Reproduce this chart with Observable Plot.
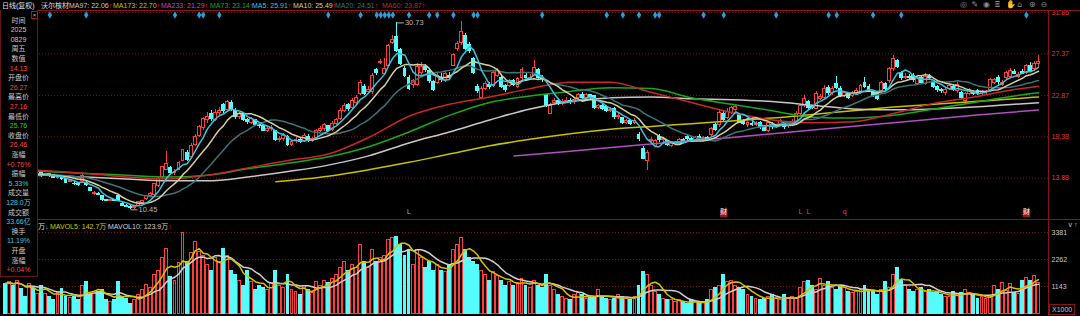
<!DOCTYPE html>
<html><head><meta charset="utf-8">
<script src="https://cdn.jsdelivr.net/npm/d3@7"></script>
<script src="https://cdn.jsdelivr.net/npm/@observablehq/plot@0.6"></script>
<style>
html,body{margin:0;padding:0;background:#000;overflow:hidden}
#wrap{position:relative;width:1080px;height:316px;background:#000;overflow:hidden;font-family:"Liberation Sans","Noto Sans CJK SC",sans-serif;font-size:7px;color:#c8c8c8}
.a{position:absolute;white-space:nowrap;line-height:1}
#wrap svg{position:absolute;left:0}
</style></head><body><div id="wrap"></div><script>
// ---------- data (daily candles, 沃尔核材) ----------
const open = [
14.6,14.4,14.6,14.3,14.5,14.2,14.0,14.3,14.1,14.6,
14.2,14.3,14.2,13.9,14.0,13.8,13.5,13.3,13.2,13.6,
13.4,12.8,12.2,12.2,11.9,11.5,11.4,11.5,12.0,11.1,
10.9,10.8,10.6,10.9,11.2,11.6,11.9,12.1,13.0,14.0,
14.8,15.0,14.4,14.8,15.8,16.6,16.2,17.5,18.5,19.3,
20.2,20.8,20.2,21.0,21.8,21.3,22.0,21.2,20.5,20.7,
20.2,19.9,20.2,19.6,19.5,19.0,19.2,19.0,18.0,18.1,
18.4,17.5,17.9,18.0,17.9,18.4,17.9,18.2,19.0,19.2,
19.5,19.1,19.8,20.3,21.2,21.8,21.5,22.0,23.0,23.8,
23.2,23.2,25.6,26.4,25.2,26.1,28.6,29.2,27.8,25.7,
24.8,24.0,24.0,25.3,25.9,25.5,24.3,24.2,24.8,24.5,
25.0,26.1,27.9,28.5,29.3,28.3,26.8,23.8,22.6,23.6,
24.0,23.9,25.0,24.8,23.9,23.9,24.4,23.8,24.7,25.0,
24.7,25.0,25.6,24.8,22.9,20.9,22.0,22.3,22.0,22.2,
22.3,22.1,22.6,22.9,22.6,22.9,22.8,21.5,21.7,21.6,
21.2,21.4,20.5,20.4,19.9,20.1,19.9,18.6,17.1,15.8,
17.9,17.4,18.4,18.0,17.9,17.4,17.6,17.6,18.0,18.3,
18.1,18.0,18.4,18.1,18.2,18.6,19.6,19.6,20.9,20.4,
21.0,21.3,20.7,20.0,19.6,19.8,19.7,19.9,19.5,19.0,
19.7,19.4,19.7,19.9,19.5,19.8,19.8,20.9,21.7,22.1,
21.6,21.4,22.5,22.6,23.7,23.1,24.1,23.6,22.8,23.0,
22.8,23.1,23.2,24.2,23.8,23.1,23.1,23.3,24.1,24.4,
25.7,26.6,25.3,24.8,24.9,25.0,24.1,24.7,24.1,24.9,
24.3,23.8,23.4,23.1,23.6,23.8,23.3,23.1,22.3,23.0,
23.1,23.3,23.0,23.1,23.4,24.2,24.8,24.0,24.7,24.9,
25.4,24.9,25.4,25.33,26.1,25.7,26.27];
const close = [
14.4,14.6,14.3,14.5,14.2,14.0,14.3,14.1,14.3,14.1,
14.3,14.2,13.9,14.0,13.8,13.4,13.6,13.2,13.1,14.1,
13.1,12.5,12.3,12.1,11.5,11.4,11.5,11.4,11.4,10.9,
10.8,10.6,10.8,11.3,11.4,11.9,12.2,13.2,13.8,15.1,
15.4,14.4,14.5,15.5,16.9,15.9,17.4,18.4,19.4,20.3,
20.5,20.3,21.0,21.2,21.2,22.1,21.3,20.5,20.8,20.2,
20.0,20.3,19.6,19.5,19.0,19.2,19.3,18.0,18.1,18.5,
17.5,17.8,18.0,17.8,18.5,17.9,18.1,19.0,19.2,19.6,
19.0,19.8,20.2,21.2,21.7,21.4,22.3,22.6,24.2,23.0,
23.5,25.0,25.3,26.5,25.7,28.2,28.9,27.7,26.3,25.0,
23.6,24.4,26.0,26.0,25.6,24.4,23.5,25.0,24.5,25.2,
24.8,27.2,28.4,29.7,27.9,27.7,25.3,23.3,23.6,24.1,
23.8,25.3,25.5,23.8,23.4,24.4,24.0,24.6,25.6,24.7,
24.8,25.8,24.8,24.6,21.8,21.7,22.3,22.0,22.2,22.3,
22.1,22.4,22.9,22.6,22.9,22.6,21.5,21.7,21.4,21.2,
21.3,20.5,20.6,19.9,20.1,19.8,20.1,18.1,16.0,16.6,
18.0,17.9,18.0,18.1,17.5,17.6,17.7,18.0,17.9,18.1,
18.0,18.2,18.1,18.2,18.1,19.2,19.1,21.0,20.2,21.1,
21.5,21.6,19.9,19.8,19.9,19.7,19.8,19.4,19.0,19.9,
19.4,19.5,20.1,19.4,19.8,19.9,20.9,21.7,22.5,21.5,
21.5,23.0,22.7,23.6,23.1,23.6,23.7,22.8,23.1,22.6,
23.1,23.3,23.9,23.8,23.4,22.8,22.5,24.2,23.6,25.7,
26.8,26.0,24.7,24.9,24.7,24.5,24.8,24.2,24.9,24.8,
23.8,23.4,23.3,23.4,23.9,23.5,24.0,22.6,23.0,23.4,
23.0,23.1,23.2,23.25,24.5,24.5,24.3,24.2,25.3,25.55,
25.2,25.1,25.24,26.09,25.5,26.26,26.46];
const high = [
14.8,14.8,14.7,14.7,14.6,14.3,14.5,14.4,14.5,14.7,
14.4,14.4,14.3,14.1,14.1,13.9,13.7,13.5,13.3,14.3,
13.6,12.9,12.4,12.3,12.0,11.6,11.6,11.6,12.1,11.2,
11.0,10.9,10.9,11.4,11.5,12.0,12.3,13.3,14.0,15.2,
16.8,15.2,14.8,15.7,17.0,16.9,17.6,18.6,19.6,20.5,
21.0,21.2,21.3,21.6,22.0,22.3,22.3,21.4,21.0,20.9,
20.4,20.5,20.3,19.8,19.6,19.4,19.6,19.1,18.4,18.7,
18.5,18.0,18.3,18.2,18.7,18.6,18.3,19.2,19.5,19.8,
19.6,20.0,20.4,21.4,22.0,22.0,22.5,22.8,24.5,24.0,
23.8,25.2,25.8,26.8,26.9,28.4,29.4,30.73,28.0,26.0,
25.0,24.6,26.3,26.4,26.2,25.7,24.5,25.2,25.2,25.5,
25.3,27.4,28.7,30.9,29.6,28.6,27.0,24.0,23.8,24.4,
24.3,25.5,25.8,25.1,24.1,24.6,24.6,24.8,25.9,25.2,
25.1,26.6,25.8,25.0,23.0,22.0,22.5,22.5,22.4,22.6,
22.5,22.6,23.1,23.2,23.1,23.0,22.9,21.9,21.9,21.8,
21.6,21.5,20.9,20.5,20.3,20.3,20.4,18.8,17.3,16.9,
18.3,18.1,18.6,18.3,18.0,17.8,17.9,18.2,18.2,18.5,
18.3,18.4,18.6,18.4,18.4,19.4,19.8,21.2,21.1,21.4,
21.7,21.8,20.9,20.2,20.1,20.0,20.0,20.0,19.6,20.0,
19.9,19.7,20.3,20.0,20.0,20.2,21.1,21.9,22.8,22.3,
21.8,23.3,23.0,23.9,23.9,23.8,24.9,23.8,23.3,23.2,
23.3,23.6,24.1,24.8,24.0,23.3,23.3,24.4,24.3,25.9,
27.2,26.8,25.5,25.2,25.1,25.2,25.0,24.9,25.2,25.1,
24.5,23.9,23.6,23.6,24.1,24.0,24.3,23.3,23.2,23.6,
23.3,23.5,23.4,23.4,24.7,24.7,25.0,24.5,25.5,25.8,
25.7,25.4,25.7,26.2,26.4,26.5,27.16];
const low = [
14.2,14.3,14.2,14.2,14.1,13.9,13.9,14.0,14.0,14.0,
14.1,14.0,13.8,13.7,13.6,13.3,13.4,13.1,13.0,13.5,
13.0,12.4,12.0,12.0,11.4,11.3,11.3,11.3,11.3,10.8,
10.7,10.45,10.5,10.8,11.1,11.5,11.8,12.0,12.9,13.9,
14.7,14.2,14.2,14.7,15.7,15.7,16.1,17.3,18.3,19.1,
19.8,20.0,20.0,20.7,20.9,21.0,21.1,20.3,20.2,20.0,
19.7,19.7,19.5,19.3,18.9,18.8,19.0,17.9,17.8,17.9,
17.3,17.3,17.6,17.6,17.7,17.7,17.7,18.0,18.8,19.0,
18.9,19.0,19.6,20.1,21.0,21.1,21.3,21.8,22.9,22.8,
23.0,23.0,25.0,26.2,25.0,25.9,28.4,27.5,26.1,24.8,
23.4,23.6,23.8,25.0,25.3,24.2,23.3,24.0,24.3,24.3,
24.6,26.0,27.6,28.3,27.7,27.4,25.1,23.1,22.4,23.4,
23.5,23.7,24.8,23.6,23.2,23.7,23.8,23.6,24.5,24.4,
24.5,24.9,24.6,24.3,21.6,20.8,21.9,21.8,21.8,22.0,
21.9,21.9,22.4,22.4,22.4,22.4,21.3,21.3,21.2,21.0,
21.0,20.3,20.3,19.7,19.7,19.6,19.7,17.9,15.9,14.7,
17.5,17.2,17.8,17.8,17.3,17.2,17.4,17.4,17.7,17.9,
17.8,17.9,17.9,17.9,17.9,18.4,19.0,19.4,20.0,20.2,
20.8,21.1,19.8,19.6,19.4,19.5,19.5,19.2,18.9,18.8,
19.2,19.3,19.5,19.2,19.3,19.6,19.7,20.7,21.6,21.3,
21.3,21.3,22.3,22.4,22.9,22.9,23.5,22.6,22.6,22.4,
22.6,22.9,23.0,23.6,23.2,22.6,22.3,23.1,23.4,24.2,
25.5,25.8,24.5,24.6,24.5,24.3,23.9,24.0,23.9,24.6,
23.6,23.2,23.1,22.9,23.4,23.3,23.1,22.4,21.9,22.8,
22.8,22.8,22.8,22.9,23.2,24.0,23.8,23.8,24.5,24.7,
25.1,24.7,25.2,25.1,25.4,25.5,25.76];
// volume, x1000 shares
const volume = [
1264,1310,1185,1392,1060,690,1264,1060,850,1185,
850,690,564,895,1060,690,650,690,564,1185,
1310,771,935,895,978,564,481,564,1310,690,
646,439,564,771,978,1225,1102,1600,1806,2304,
2677,1517,1392,2097,3381,2138,2511,2967,2553,2428,
2014,1806,2304,2138,2718,2428,1806,1600,1392,1185,
1806,1310,978,1185,1061,978,1268,1806,1185,1061,
1600,978,895,771,1185,978,854,1310,1185,1392,
1268,1475,1600,1890,2138,1806,2014,1890,2843,2138,
1890,2636,2138,2304,2428,3050,3133,3215,2843,2428,
2636,2014,2636,2304,1890,2138,1806,2014,1806,1724,
2014,2636,2843,3133,2636,2304,2138,2014,1806,1600,
1392,1724,1558,1392,1185,1310,1185,1268,1475,1185,
1102,1392,1185,1061,1600,1185,978,771,729,646,
564,771,854,771,646,729,688,978,729,646,
564,646,771,688,646,564,688,1185,1724,1600,
1185,895,771,646,564,564,481,564,481,439,
564,481,439,481,564,978,1061,1185,1600,1310,
1392,1185,1061,978,771,729,646,564,646,688,
771,646,564,771,646,688,646,1061,1310,1392,
1185,978,1475,1185,1310,1061,978,1185,1061,895,
854,895,978,1185,978,895,771,978,1310,1061,
1600,1890,1392,1185,978,895,978,1061,895,978,
854,895,771,688,729,895,771,854,978,854,
771,646,688,646,729,1144,978,1300,950,1250,
870,830,1380,1500,1380,1595,1280];
// long moving averages (candle index -> value)
const maIdx = [0,10,20,30,40,50,60,70,80,90,100,110,120,130,140,150,160,170,180,190,200,210,220,230,240,250,256];
const ma60 = [14.9,14.7,14.4,14.0,13.8,14.2,15.0,15.8,16.5,18.3,20.6,21.9,22.7,23.6,24.3,24.3,23.2,22.1,21.0,20.2,19.9,20.0,20.9,22.0,22.7,23.5,23.87];
const ma73 = [14.8,14.6,14.4,14.2,14.0,14.2,14.9,15.5,16.2,17.3,18.9,20.7,22.1,22.8,23.3,23.7,23.6,22.6,21.9,21.2,20.5,20.4,20.7,21.4,22.1,22.8,23.14];
const ma97 = [14.3,14.2,14.0,13.8,13.6,13.6,14.0,14.6,15.3,16.3,17.7,18.9,20.2,21.4,22.2,22.6,22.7,22.5,22.4,22.2,21.8,21.4,21.3,21.4,21.6,21.9,22.06];
const ma173Idx = [67,80,90,100,110,120,130,140,150,160,170,180,190,200,210,220,230,240,250,256];
const ma173 = [13.5,14.1,14.8,15.6,16.5,17.4,18.1,18.7,19.2,19.5,19.8,20.1,20.4,20.8,21.2,21.6,21.9,22.2,22.5,22.70];
const ma233Idx = [126,140,160,180,200,220,240,256];
const ma233 = [16.3,16.8,17.6,18.3,19.1,19.9,20.7,21.29];
const priceTicks = [31.86,27.37,22.87,18.38,13.88];
const volTicks = [3381,2262,1143];
const signalIdx = [11,20,42,48,49,53,80,88,92,93,94,95,96,100,105,107,111,116,117,133,149,153,157,161,162,173,178,191,204,206,215,222,253];
const markerIdx = [100,178,197,199,208,253];
const markerText = ["L","财","L","L","q","财"];
const legendNames = ["MA97","MA173","MA233","MA73","MA5","MA10","MA20","MA60"];
const legendValues = [22.06,22.70,21.29,23.14,25.91,25.49,24.51,23.87];
const infoLabels = ["时间","2025","0829","周五","数值","14.13","开盘价","26.27","最高价","27.16","最低价","25.76","收盘价","26.46","涨幅","+0.76%","振幅","5.33%","成交量","128.0万","成交额","33.66亿","换手","11.19%","开盘","涨幅","+0.04%"];

// ---------- styling ----------
const RED = "#ff3c3c", CYAN = "#54fcfc", GRID = "#7a1212";
const C = {MA5:"#3cc4dc", MA10:"#d8cfa0", MA20:"#3d7475", MA60:"#c82828", MA73:"#1aa81a", MA97:"#c8c8c8", MA173:"#c8c000", MA233:"#b050c0"};
const FONT = "Liberation Sans, Noto Sans CJK SC, sans-serif";
const N = close.length;
const candles = d3.range(N).map(i => ({i, o: open[i], h: high[i], l: low[i], c: close[i], v: volume[i], up: close[i] >= open[i]}));
const pts = (idx, vals) => idx.map((i, k) => ({i, v: vals[k]}));
const X = {type: "linear", domain: [0, N - 1], range: [5, 1038], axis: null};
const bw = 0.36;
const wrap = document.getElementById("wrap");

const main = Plot.plot({
  width: 1080, height: 219, marginTop: 0, marginBottom: 0, marginLeft: 0, marginRight: 32,
  style: {background: "transparent", fontFamily: FONT, fontSize: "7px", overflow: "visible"},
  x: X,
  y: {domain: [13.88, 31.86], range: [177.7, 12], axis: null},
  color: {type: "identity"},
  marks: [
    Plot.gridY(priceTicks, {stroke: GRID, strokeOpacity: 1, strokeDasharray: "1,2"}),
    Plot.axisY(priceTicks, {anchor: "right", tickSize: 0, tickPadding: 3, tickFormat: d => d.toFixed(2), fill: "#e23434", fontSize: 7}),
    Plot.ruleX(candles, {x: "i", y1: "l", y2: "h", stroke: d => d.up ? RED : CYAN, shapeRendering: "crispEdges"}),
    Plot.rect(candles, {x1: d => d.i - bw, x2: d => d.i + bw, y1: "o", y2: "c", fill: d => d.up ? "#000" : CYAN, stroke: d => d.up ? RED : CYAN, shapeRendering: "crispEdges"}),
    Plot.line(pts(ma233Idx, ma233), {x: "i", y: "v", stroke: C.MA233, curve: "monotone-x"}),
    Plot.line(pts(ma173Idx, ma173), {x: "i", y: "v", stroke: C.MA173, curve: "monotone-x"}),
    Plot.line(pts(maIdx, ma97), {x: "i", y: "v", stroke: C.MA97, curve: "monotone-x"}),
    Plot.line(pts(maIdx, ma73), {x: "i", y: "v", stroke: C.MA73, curve: "monotone-x"}),
    Plot.line(pts(maIdx, ma60), {x: "i", y: "v", stroke: C.MA60, curve: "monotone-x"}),
    Plot.lineY(candles, Plot.windowY({k: 20, anchor: "end"}, {x: "i", y: "c", stroke: C.MA20})),
    Plot.lineY(candles, Plot.windowY({k: 10, anchor: "end"}, {x: "i", y: "c", stroke: C.MA10})),
    Plot.lineY(candles, Plot.windowY({k: 5, anchor: "end"}, {x: "i", y: "c", stroke: C.MA5})),
    Plot.dot(signalIdx, {x: d => d, frameAnchor: "top", dy: 14.5, symbol: "diamond", r: 2.3, fill: "#2a9ed8", stroke: "none"}),
    Plot.link([candles[97]], {x1: "i", x2: d => d.i + 1.7, y1: "h", y2: "h", stroke: "#b0b0b0"}),
    Plot.text([candles[97]], {x: "i", y: "h", text: d => d.h.toFixed(2), dx: 8, textAnchor: "start", fill: "#b8b8b8", fontSize: 7.5}),
    Plot.link([candles[31]], {x1: "i", x2: d => d.i + 1.7, y1: "l", y2: "l", stroke: "#b0b0b0"}),
    Plot.text([candles[31]], {x: "i", y: "l", text: d => d.l.toFixed(2), dx: 8, textAnchor: "start", fill: "#b8b8b8", fontSize: 7.5}),
    Plot.dot(markerIdx.map((i, k) => ({i, t: markerText[k]})).filter(d => d.t === "财"), {x: "i", frameAnchor: "bottom", dy: -6, symbol: "square", r: 4.2, fill: "#9a1818", stroke: "none"}),
    Plot.text(markerIdx.map((i, k) => ({i, t: markerText[k]})), {x: "i", frameAnchor: "bottom", dy: -6, text: "t", fontSize: 7, fill: d => d.t === "财" ? "#ffffff" : d.t === "q" ? "#d040c0" : (d.i < 150 ? "#40d0e0" : RED)})
  ]
});
main.style.top = "0px";
wrap.appendChild(main);

const vol = Plot.plot({
  width: 1080, height: 97, marginTop: 0, marginBottom: 0, marginLeft: 0, marginRight: 32,
  style: {background: "transparent", fontFamily: FONT, fontSize: "7px", overflow: "visible"},
  x: X,
  y: {domain: [0, 3381], range: [94.6, 13], axis: null},
  color: {type: "identity"},
  marks: [
    Plot.gridY(volTicks, {stroke: GRID, strokeOpacity: 1, strokeDasharray: "1,2"}),
    Plot.axisY(volTicks, {anchor: "right", tickSize: 0, tickPadding: 3, tickFormat: d => String(d), fill: "#c8c8c8", fontSize: 7}),
    Plot.rect(candles, {x1: d => d.i - bw, x2: d => d.i + bw, y1: 0, y2: "v", fill: d => d.up ? "#000" : CYAN, stroke: d => d.up ? RED : CYAN, shapeRendering: "crispEdges"}),
    Plot.lineY(candles, Plot.windowY({k: 10, anchor: "end"}, {x: "i", y: "v", stroke: "#d0d0d0"})),
    Plot.lineY(candles, Plot.windowY({k: 5, anchor: "end"}, {x: "i", y: "v", stroke: "#d4c400"}))
  ]
});
vol.style.top = "219px";
wrap.appendChild(vol);

// ---------- overlays ----------
function add(html, css) {
  const d = document.createElement("div");
  d.className = "a"; d.innerHTML = html; Object.assign(d.style, css); wrap.appendChild(d); return d;
}
add("", {left: "0px", top: "10px", width: "1080px", height: "1px", background: "#8a1414"});
add("", {left: "0px", top: "219px", width: "1080px", height: "1px", background: "#8a1414"});
add("", {left: "1048px", top: "10px", width: "1px", height: "306px", background: "#8a1414"});
// header legend
add("日线(复权)", {left: "2px", top: "2px", color: "#e0e0e0", fontSize: "7px"});
add("沃尔核材", {left: "41px", top: "2px", color: "#e0e0e0", fontSize: "7px"});
const lx = [69,113,161,210,252,293,335,382];
legendNames.forEach((n, k) => add(`${n}: ${legendValues[k].toFixed(2)}<span style="color:#e02020">↑</span>`, {left: lx[k] + "px", top: "2px", color: C[n], fontSize: "7px"}));
// toolbar icons
["◎","✎","◉","⌸","✋","⌂","⊕","⊖"].forEach((s, k) => add(s, {left: (960 + k * 11.5) + "px", top: "1px", color: "#8c8c8c", fontSize: "8px", fontFamily: "DejaVu Sans"}));
// info box
add("", {left: "0px", top: "10px", width: "36px", height: "266px", background: "#000", border: "1px solid #6a1515", borderTop: "none"});
const red = new Set([5,7,9,13,15,26]), green = new Set([11]), cy = new Set([17,19,21,23]);
infoLabels.forEach((t, k) => add(t, {left: "0px", width: "37px", textAlign: "center", top: (16.5 + k * 9.6) + "px", fontSize: "7px",
  color: red.has(k) ? "#ff4040" : green.has(k) ? "#20d020" : cy.has(k) ? "#40c8d8" : "#c8c8c8"}));
add("×", {left: "31px", top: "11px", width: "5px", height: "6px", fontSize: "6px", color: "#c0c0c0", border: "1px solid #a01818", textAlign: "center", lineHeight: "6px"});
// volume legend
add('万<span style="color:#40c8d8">↓</span>', {left: "38px", top: "223px", color: "#e0e0e0", fontSize: "7px"});
add('MAVOL5: 142.7万<span style="color:#e02020">↑</span>', {left: "50px", top: "223px", color: "#d4c400", fontSize: "7px"});
add('MAVOL10: 123.9万<span style="color:#e02020">↑</span>', {left: "108px", top: "223px", color: "#d0d0d0", fontSize: "7px"});
add("X1000", {left: "1049px", top: "304px", padding: "1px 2px", color: "#c8c8c8", fontSize: "7px", border: "1px solid #8a1414"});
</script></body></html>
